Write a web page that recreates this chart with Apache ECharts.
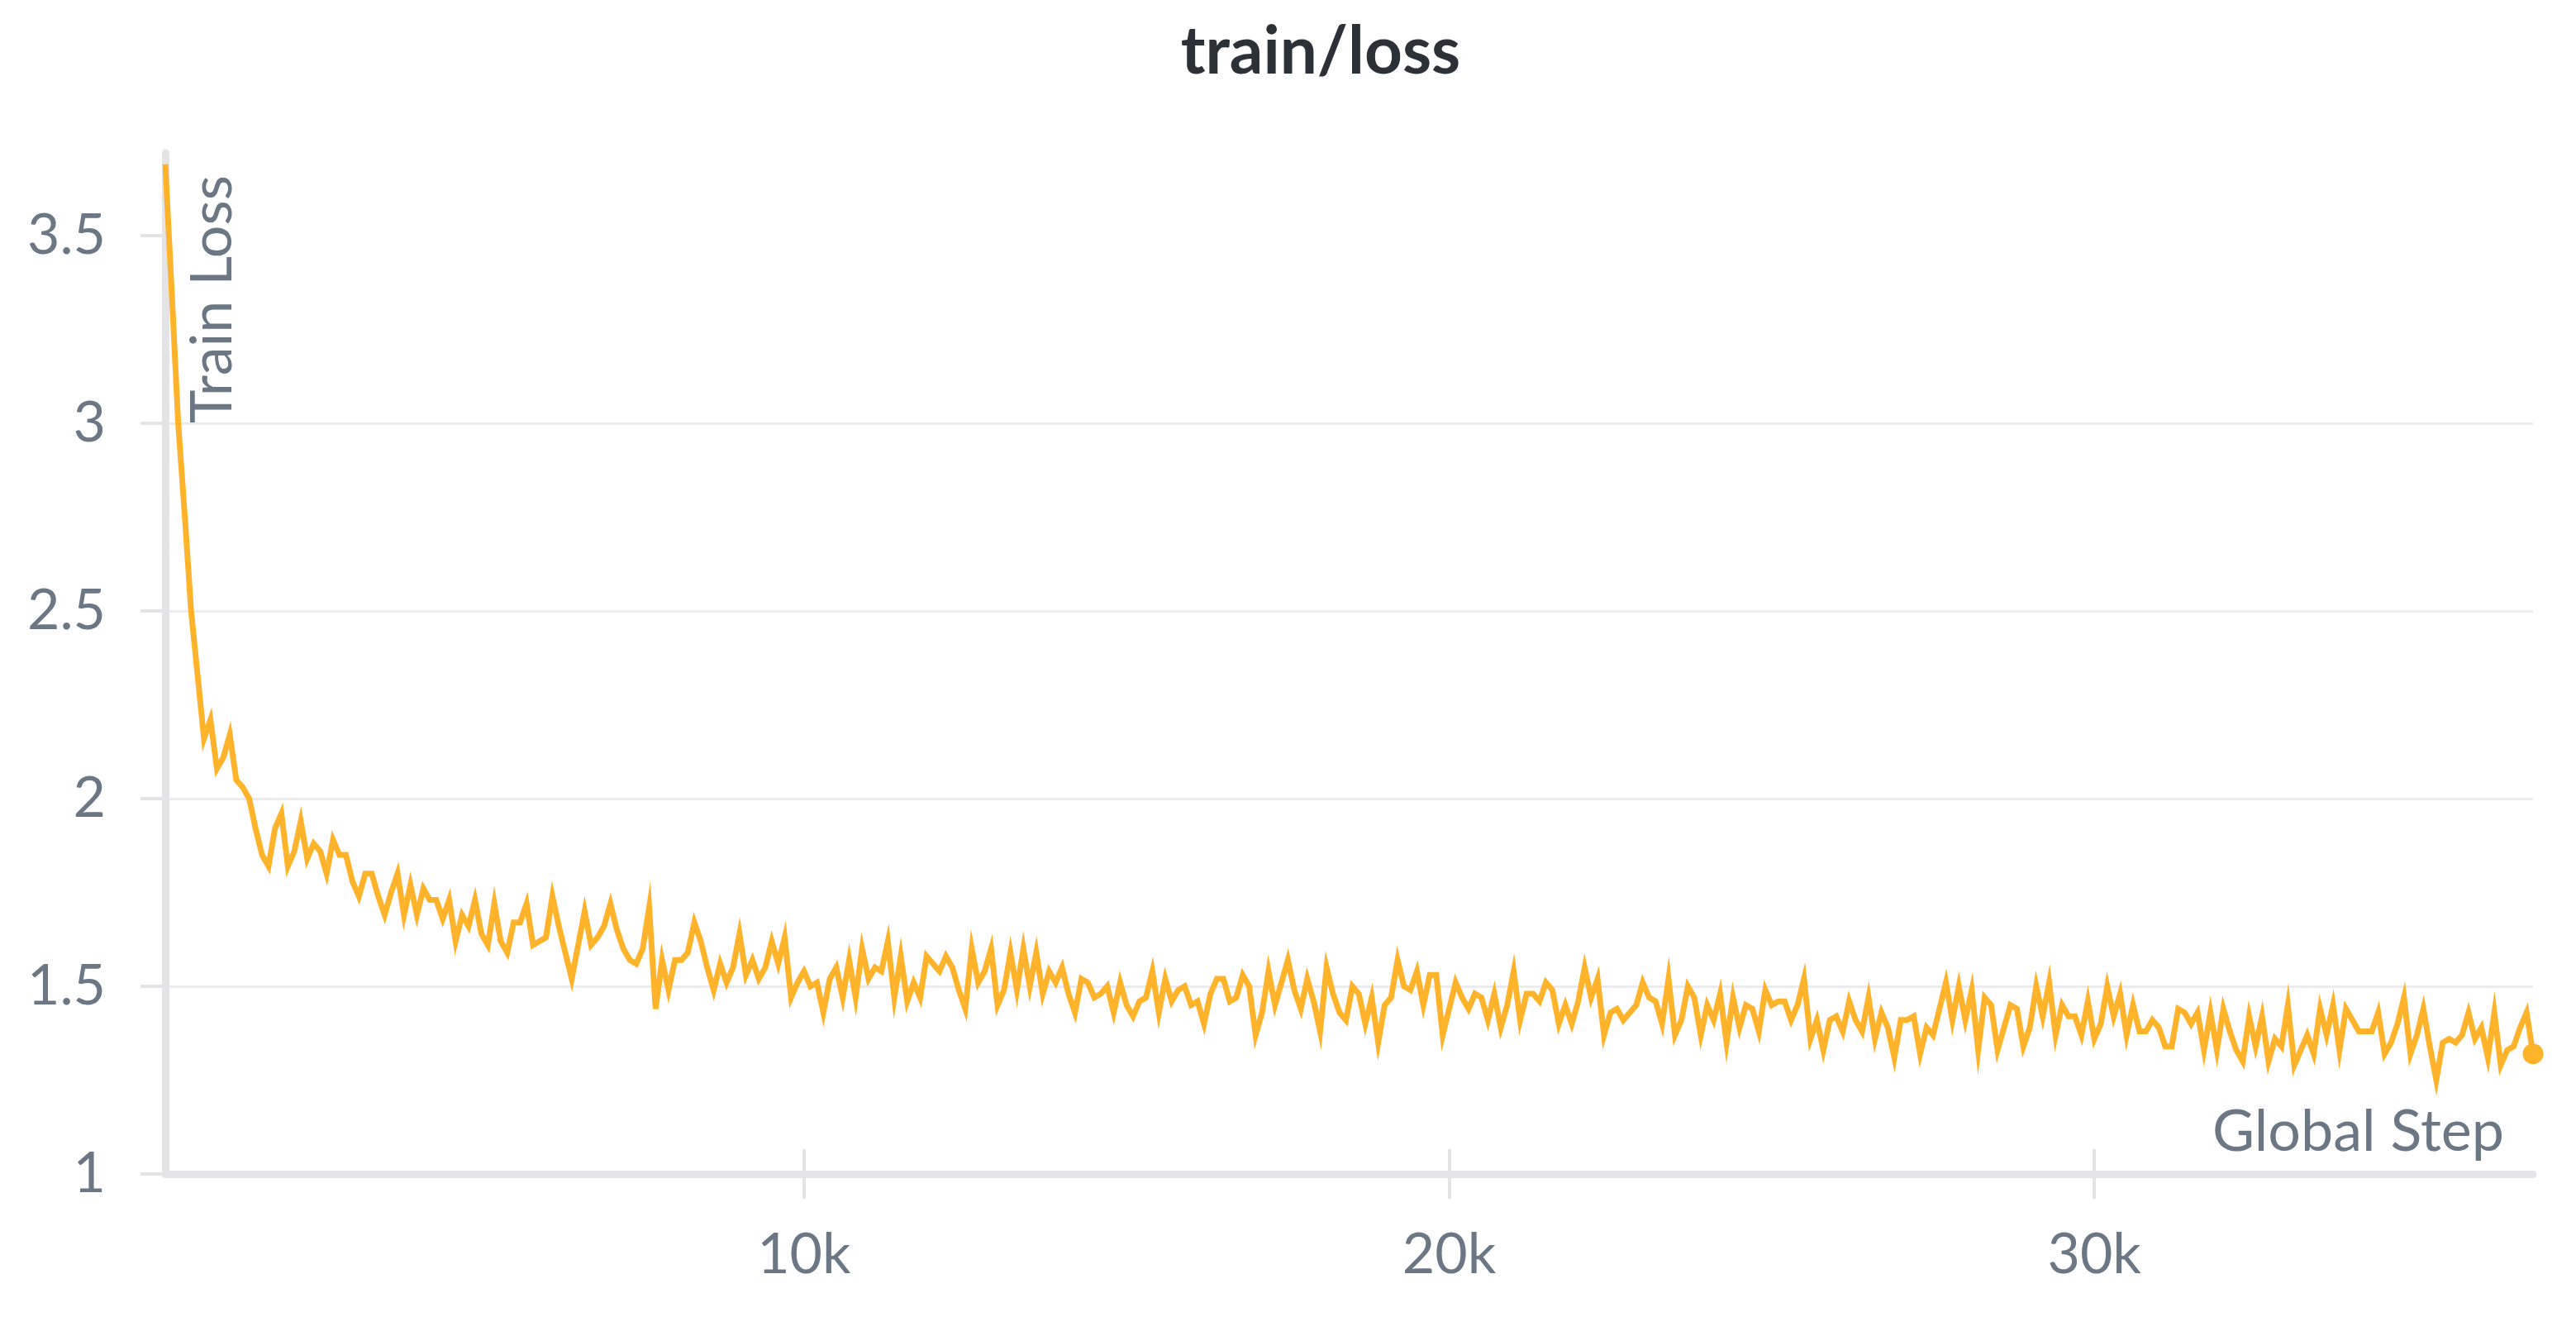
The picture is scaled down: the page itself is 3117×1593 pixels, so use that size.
<!DOCTYPE html>
<html>
<head>
<meta charset="utf-8">
<script src="https://cdn.jsdelivr.net/npm/echarts@6/dist/echarts.min.js"></script>
<style>
html,body{margin:0;padding:0;background:#ffffff;}
#chart{width:3117px;height:1593px;}
</style>
</head>
<body>
<div id="chart"></div>
<script>
// ---- data ----
const chartTitle = 'train/loss';
const xName = 'Global Step';
const yName = 'Train Loss';
const firstStep = 100;      // first logged global step
const stepSpacing = 100;    // logging interval in steps
const lastStep = 36800;
const xTickValues = [10000, 20000, 30000];
const yTickValues = [1, 1.5, 2, 2.5, 3, 3.5];

const lossPart1 = [
  3.69,3.35,3.00,2.76,2.50,2.33,2.16,2.21,2.08,2.11,
  2.17,2.05,2.03,2.00,1.92,1.85,1.82,1.92,1.96,1.82,
  1.86,1.94,1.84,1.88,1.86,1.80,1.89,1.85,1.85,1.78,
  1.74,1.80,1.80,1.74,1.69,1.75,1.80,1.69,1.77,1.69,
  1.76,1.73,1.73,1.68,1.73,1.62,1.69,1.66,1.73,1.64,
  1.61,1.72,1.62,1.59,1.67,1.67,1.72,1.61,1.62,1.63,
  1.74,1.66,1.59,1.52,1.61,1.70,1.61,1.63,1.66,1.72,
  1.65,1.60,1.57,1.56,1.60,1.71,1.44,1.57,1.49,1.57,
  1.57,1.59,1.67,1.62,1.55,1.49,1.56,1.51,1.55,1.64,
  1.53,1.57
];
const lossPart2 = [
  1.52,1.55,1.62,1.56,1.63,1.47,1.51,1.54,
  1.50,1.51,1.43,1.52,1.55,1.47,1.57,1.47,1.60,1.52,
  1.55,1.54,1.62,1.47,1.58,1.46,1.51,1.47,1.58,1.56,
  1.54,1.58,1.55,1.49,1.44,1.60,1.51,1.54,1.60,1.45,
  1.49,1.59,1.49,1.60,1.50,1.59,1.48,1.54,1.51,1.55,
  1.48,1.43,1.52,1.51,1.47,1.48,1.50,1.43,1.51,1.45,
  1.42,1.46,1.47,1.54,1.43,1.52,1.46,1.49,1.50,1.45,
  1.46,1.40,1.48,1.52,1.52,1.46,1.47,1.53,1.50,1.37,
  1.43,1.54,1.45,1.51,1.57,1.49,1.44,1.52,1.46,1.38,
  1.55,1.48,1.43,1.41
];
const lossPart3 = [
  1.50,1.48,1.40,1.47,1.35,1.45,
  1.47,1.57,1.50,1.49,1.54,1.45,1.53,1.53,1.37,1.44,
  1.51,1.47,1.44,1.48,1.47,1.41,1.48,1.39,1.45,1.54,
  1.41,1.48,1.48,1.46,1.51,1.49,1.40,1.45,1.40,1.46,
  1.55,1.47,1.52,1.37,1.43,1.44,1.41,1.43,1.45,1.51,
  1.47,1.46,1.40,1.52,1.37,1.41,1.50,1.47,1.37,1.45,
  1.41,1.48,1.35,1.47,1.39,1.45,1.44,1.38,1.49,1.45,
  1.46,1.46,1.41,1.45,1.52,1.36,1.41,1.33,1.41,1.42,
  1.38,1.46,1.41,1.38,1.47,1.36,1.43,1.39,1.31,1.41,
  1.41,1.42,1.32,1.39
];
const lossPart4 = [
  1.37,1.44,1.51,1.41,1.50,1.41,
  1.49,1.33,1.47,1.45,1.33,1.39,1.45,1.44,1.34,1.39,
  1.50,1.42,1.51,1.37,1.45,1.42,1.42,1.37,1.46,1.36,
  1.40,1.50,1.42,1.48,1.37,1.45,1.38,1.38,1.41,1.39,
  1.34,1.34,1.44,1.43,1.40,1.43,1.33,1.43,1.33,1.44,
  1.38,1.33,1.30,1.42,1.34,1.42,1.30,1.36,1.34,1.45,
  1.29,1.33,1.37,1.32,1.44,1.37,1.45,1.33,1.44,1.41,
  1.38,1.38,1.38,1.43,1.32,1.35,1.40,1.47,1.32,1.37,
  1.44,1.34,1.25,1.35,1.36,1.35,1.37,1.43,1.36,1.39,
  1.31,1.43,1.29,1.33,1.34,1.39,1.43,1.32
];

// ---- build series ----
const loss = [].concat(lossPart1, lossPart2, lossPart3, lossPart4);
const seriesData = loss.map((v, i) => [firstStep + i * stepSpacing, v]);
const lastPoint = seriesData[seriesData.length - 1];

const labelColor = '#6b7785';
const axisGray = '#e4e4e7';
const gridGray = '#ececef';
const lineColor = '#ffb32a';
const fontFam = 'Lato, "Noto Sans", sans-serif';

const chart = echarts.init(document.getElementById('chart'), null, {renderer: 'canvas'});
chart.setOption({
  backgroundColor: '#ffffff',
  animation: false,
  title: {
    text: chartTitle,
    left: 1593,
    top: 18,
    textAlign: 'center',
    textStyle: {fontFamily: fontFam, fontSize: 80, fontWeight: 'bold', color: '#2c3037'}
  },
  grid: {left: 200, right: 52, top: 185, bottom: 173, containLabel: false},
  xAxis: [{
    type: 'value',
    min: firstStep,
    max: lastStep,
    axisLine: {show: true, lineStyle: {color: axisGray, width: 9}},
    axisTick: {show: true, customValues: xTickValues, length: 30, lineStyle: {color: axisGray, width: 4}},
    axisLabel: {
      customValues: xTickValues,
      formatter: v => (v / 1000) + 'k',
      fontFamily: fontFam, fontSize: 68, color: labelColor, margin: 64
    },
    splitLine: {show: false},
    name: xName,
    nameLocation: 'end',
    nameGap: -35,
    nameTextStyle: {fontFamily: fontFam, fontSize: 70, color: labelColor, align: 'right', verticalAlign: 'bottom', padding: [0, 0, 16, 0]}
  }, {
    type: 'value',
    min: firstStep,
    max: lastStep,
    position: 'bottom',
    axisLine: {show: false},
    axisTick: {show: true, inside: true, customValues: xTickValues, length: 30, lineStyle: {color: axisGray, width: 4}},
    axisLabel: {show: false},
    splitLine: {show: false}
  }],
  yAxis: {
    type: 'value',
    min: 1,
    max: 3.72,
    interval: 0.5,
    axisLine: {show: true, lineStyle: {color: axisGray, width: 9}},
    axisTick: {show: true, customValues: yTickValues, length: 30, lineStyle: {color: axisGray, width: 4}},
    axisLabel: {
      customValues: yTickValues,
      fontFamily: fontFam, fontSize: 68, color: labelColor, margin: 72
    },
    splitLine: {show: true, showMaxLine: false, showMinLine: false, lineStyle: {color: gridGray, width: 3}}
  },
  graphic: [{
    type: 'text',
    x: 222,
    y: 212,
    rotation: Math.PI / 2,
    style: {text: yName, fontFamily: fontFam, fontSize: 70, fill: labelColor, align: 'right', verticalAlign: 'top'}
  }],
  series: [{
    type: 'line',
    data: seriesData,
    xAxisIndex: 0,
    showSymbol: false,
    symbol: 'none',
    lineStyle: {color: lineColor, width: 7, join: 'miter'},
    itemStyle: {color: lineColor},
    clip: false,
    markPoint: {
      symbol: 'circle',
      symbolSize: 25,
      itemStyle: {color: lineColor},
      label: {show: false},
      data: [{coord: lastPoint}]
    }
  }]
});
</script>
</body>
</html>
